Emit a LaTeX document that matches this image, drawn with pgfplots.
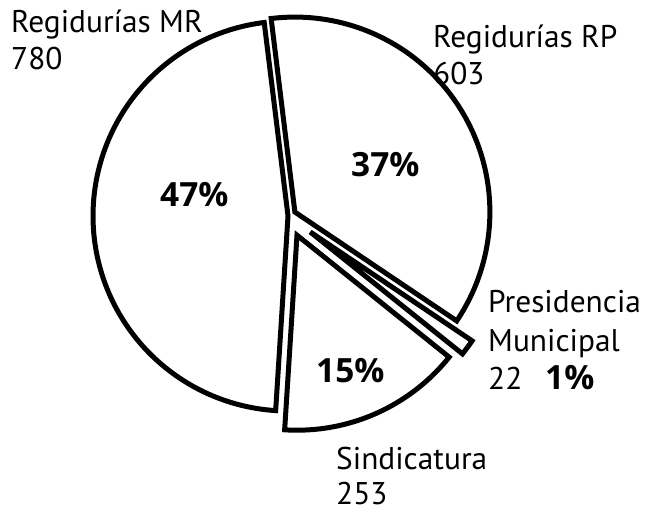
\documentclass[border=0pt]{standalone}
\usepackage{pgfplots}
\pgfplotsset{compat=1.18}
\usepackage{fontspec}
\setmainfont{PT Sans}
\newfontfamily\pctfont{Open Sans}
\begin{document}
\begin{tikzpicture}
% data (counts)
\def\vRP{603}\def\vPM{22}\def\vSI{253}\def\vMR{780}
% layout (pixel-like units)
\def\cx{288.5}\def\cy{-216}\def\R{195}\def\S{97}
\pgfmathsetmacro{\tot}{\vRP+\vPM+\vSI+\vMR}
\pgfmathsetmacro{\aA}{\S}
\pgfmathsetmacro{\aB}{\aA-360*(\vRP/\tot)}
\pgfmathsetmacro{\aC}{\aB-360*(\vPM/\tot)}
\pgfmathsetmacro{\aD}{\aC-360*(\vSI/\tot)}
\pgfmathsetmacro{\aE}{\aD-360*(\vMR/\tot)}
\newcommand{\pieslice}[3]{%
 \addplot[draw=black, fill=white, line width=5bp, line join=miter, samples at={0,1,...,101}, variable=\u]
 ({\cx+#3*cos((#1+#2)/2) + (\u>0.5)*\R*cos(#1+(\u-1)*(#2-#1)/100)},
  {\cy+#3*sin((#1+#2)/2) + (\u>0.5)*\R*sin(#1+(\u-1)*(#2-#1)/100)}) -- cycle;
}
\path[use as bounding box] (0,0) rectangle (655bp,516bp);
\begin{axis}[at={(0,0)}, anchor=south west, width=655bp, height=516bp, scale only axis,
  xmin=0, xmax=655, ymin=-516, ymax=0, hide axis, clip=false]
\pieslice{\aA}{\aB}{7.5}
\pieslice{\aB}{\aC}{27}
\pieslice{\aC}{\aD}{21}
\pieslice{\aD}{\aE}{0.5}
\tikzset{lab/.style={anchor=base west, inner sep=0pt, font=\fontsize{31.5}{33}\selectfont},
         pct/.style={anchor=base west, inner sep=0pt, font=\pctfont\fontsize{33.5}{34}\selectfont\bfseries}}
\node[lab] at (axis cs:11,-33) {Regidurías MR};
\node[lab] at (axis cs:11,-70) {780};
\node[lab] at (axis cs:433,-48) {Regidurías RP};
\node[lab] at (axis cs:433,-85) {603};
\node[lab] at (axis cs:488,-313) {Presidencia};
\node[lab] at (axis cs:488,-352) {Municipal};
\node[lab] at (axis cs:488,-390) {22};
\node[lab] at (axis cs:336,-470) {Sindicatura};
\node[lab] at (axis cs:336,-505) {253};
\node[pct] at (axis cs:351,-177) {37\%};
\node[pct] at (axis cs:160,-207) {47\%};
\node[pct] at (axis cs:316,-383) {15\%};
\node[pct] at (axis cs:545,-390) {1\%};
\end{axis}
\end{tikzpicture}
\end{document}
